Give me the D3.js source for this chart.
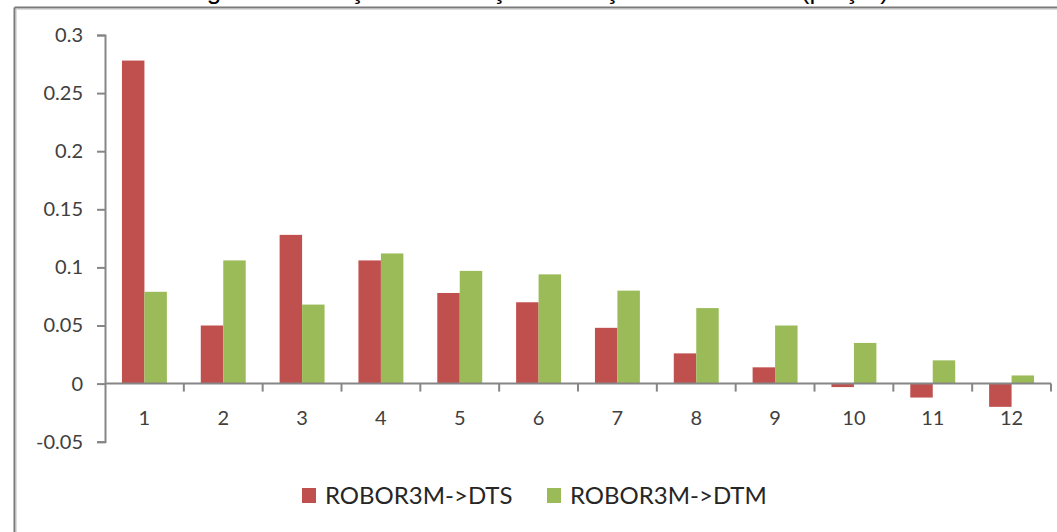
<!DOCTYPE html>
<html>
<head>
<meta charset="utf-8">
<script src="https://cdn.jsdelivr.net/npm/d3@7"></script>
<style>
  html, body { margin: 0; padding: 0; background: #fff; }
  svg { display: block; }
</style>
</head>
<body>
<svg id="chart" width="1057" height="532"></svg>
<script>
// Lags and correlation coefficients for the two series
const lags = [1, 2, 3, 4, 5, 6, 7, 8, 9, 10, 11, 12];
const seriesNames = ["ROBOR3M->DTS", "ROBOR3M->DTM"];
const dtsValues = [0.278, 0.050, 0.128, 0.106, 0.078, 0.070, 0.048, 0.026, 0.014, -0.003, -0.012, -0.020];
const dtmValues = [0.079, 0.106, 0.068, 0.112, 0.097, 0.094, 0.080, 0.065, 0.050, 0.035, 0.020, 0.007];
const yTicks = [-0.05, 0, 0.05, 0.1, 0.15, 0.2, 0.25, 0.3];
const yTickLabels = ["-0.05", "0", "0.05", "0.1", "0.15", "0.2", "0.25", "0.3"];
const titleText = "Figura 6. Funcţia de corelaţie încrucişată ROBOR3M (parţial)";
const colors = ["#C0504D", "#9BBB59"];

const svg = d3.select("#chart");
const axisColor = "#868686";
const labelFont = "Lato, 'Open Sans', sans-serif";

// outer frame of the chart area
svg.append("line").attr("x1", 14.5).attr("x2", 1057).attr("y1", 7.5).attr("y2", 7.5)
  .attr("stroke", "#7a7a7a").attr("stroke-width", 2);
svg.append("line").attr("x1", 14.5).attr("x2", 14.5).attr("y1", 7.5).attr("y2", 532)
  .attr("stroke", "#7a7a7a").attr("stroke-width", 2);
svg.append("line").attr("x1", 16).attr("x2", 1057).attr("y1", 9.5).attr("y2", 9.5)
  .attr("stroke", "#dcdcdc").attr("stroke-width", 1);
svg.append("line").attr("x1", 16.5).attr("x2", 16.5).attr("y1", 9).attr("y2", 532)
  .attr("stroke", "#dcdcdc").attr("stroke-width", 1);

// title (sits above the frame, mostly beyond the top edge)
svg.append("text").attr("x", 537).attr("y", -1).attr("text-anchor", "middle")
  .attr("font-family", "'Liberation Sans', Arial, sans-serif").attr("font-size", 26)
  .attr("fill", "#000").text(titleText);

const plotLeft = 105, plotRight = 1051;
const y = d3.scaleLinear().domain([-0.05, 0.3]).range([441.7, 35]);
const x = d3.scaleBand().domain(lags).range([plotLeft, plotRight])
  .paddingInner(0.43).paddingOuter(0.215);
const xSub = d3.scaleBand().domain(seriesNames).range([0, x.bandwidth()]);
const step = x.step();

// y axis
const yAxis = d3.axisLeft(y).tickValues(yTicks).tickSize(8).tickPadding(14)
  .tickFormat((d, i) => yTickLabels[i]);
const gy = svg.append("g").attr("transform", `translate(${plotLeft},0)`).call(yAxis);
gy.select(".domain").attr("stroke", axisColor).attr("stroke-width", 2);
gy.selectAll(".tick line").attr("stroke", axisColor).attr("stroke-width", 2);
gy.selectAll(".tick text").attr("font-family", labelFont).attr("font-size", 20)
  .attr("fill", "#404040");

// bars
const groups = svg.append("g").selectAll("g").data(lags).join("g")
  .attr("transform", d => `translate(${x(d)},0)`);
groups.selectAll("rect")
  .data((d, i) => [
    { name: seriesNames[0], v: dtsValues[i], c: colors[0] },
    { name: seriesNames[1], v: dtmValues[i], c: colors[1] }
  ])
  .join("rect")
  .attr("x", d => xSub(d.name))
  .attr("width", xSub.bandwidth())
  .attr("y", d => Math.min(y(d.v), y(0)))
  .attr("height", d => Math.abs(y(d.v) - y(0)))
  .attr("fill", d => d.c);

// x axis along zero, ticks between categories
const y0 = y(0);
svg.append("line").attr("x1", plotLeft).attr("x2", plotRight).attr("y1", y0).attr("y2", y0)
  .attr("stroke", axisColor).attr("stroke-width", 2);
const boundaries = lags.map(d => x(d) - step * x.paddingInner() / 2 + step);
svg.append("g").selectAll("line").data(boundaries).join("line")
  .attr("x1", d => d).attr("x2", d => d).attr("y1", y0).attr("y2", y0 + 8)
  .attr("stroke", axisColor).attr("stroke-width", 2);
svg.append("g").selectAll("text").data(lags).join("text")
  .attr("x", d => x(d) + x.bandwidth() / 2)
  .attr("y", 425)
  .attr("text-anchor", "middle")
  .attr("font-family", labelFont).attr("font-size", 20).attr("fill", "#404040")
  .text(d => d);

// legend
const legend = svg.append("g");
const legendX = [302, 547];
seriesNames.forEach((name, i) => {
  legend.append("rect").attr("x", legendX[i]).attr("y", 488).attr("width", 14).attr("height", 15)
    .attr("fill", colors[i]);
  legend.append("text").attr("x", legendX[i] + 23).attr("y", 504)
    .attr("font-family", labelFont).attr("font-size", 24).attr("fill", "#262626")
    .text(name);
});
</script>
</body>
</html>
